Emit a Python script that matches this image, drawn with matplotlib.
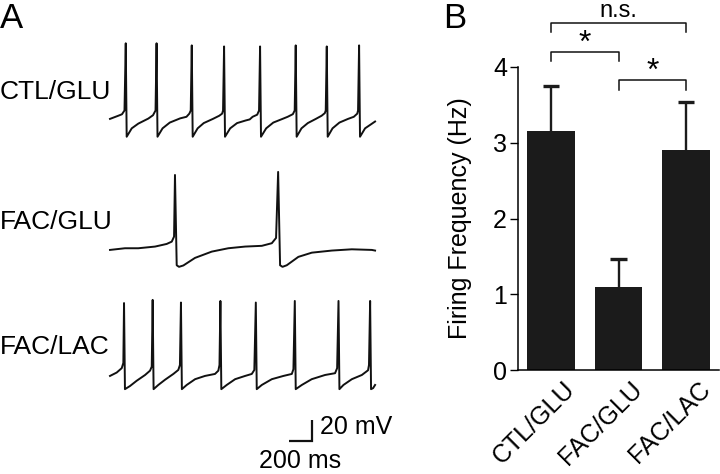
import matplotlib
matplotlib.use("Agg")
import matplotlib.pyplot as plt
import matplotlib.transforms as mtransforms
import numpy as np

plt.rcParams['font.family'] = ['Liberation Sans', 'DejaVu Sans']

# ---------------- Panel A data (ms, mV) ----------------
trace_names = ["CTL/GLU", "FAC/GLU", "FAC/LAC"]

ctl_t = [0, 72, 104, 126, 137, 145, 189, 246, 333, 374, 396, 405,
         413, 457, 520, 610, 665, 690, 702, 711,
         719, 762, 815, 895, 950, 975, 983, 992,
         1000, 1045, 1105, 1180, 1215, 1240, 1280, 1296, 1305,
         1313, 1358, 1420, 1500, 1545, 1590, 1606, 1615,
         1623, 1665, 1720, 1790, 1840, 1868, 1876, 1885,
         1893, 1935, 1995, 2070, 2120, 2150, 2157, 2166,
         2174, 2218, 2265, 2305]
ctl_v = [-42, -39, -37.6, -34, 30, -59, -51, -46.5, -41.7, -38.5, -34, 30,
         -59, -51, -45.5, -41.5, -40, -37, -34, 28,
         -59, -51, -46, -42, -39, -37, -34, 27,
         -59, -51, -46, -43.5, -42.5, -40, -38, -34, 27,
         -59, -51, -45.5, -42, -40, -37.5, -34, 28,
         -59, -51, -46, -42, -39, -36.5, -34, 27,
         -59, -51, -45.5, -42, -40, -37, -34, 28,
         -59, -51, -47.5, -44.5]

fglu_t = [0, 130, 246, 392, 493, 537, 557, 565,
          580, 600, 638, 739, 885, 1029, 1175, 1320, 1407, 1444, 1462,
          1479, 1500, 1537, 1638, 1755, 1929, 2103, 2277, 2305]
fglu_v = [-41.4, -39.8, -39.8, -38.2, -35.7, -33.5, -28.7, 30,
          -56, -57.5, -56.2, -49, -43, -39.8, -38.2, -37.5, -35, -30, 32.9,
          -56, -57.5, -56, -48, -44, -42, -40.8, -41.4, -42]

flac_t = [0, 58, 102, 116, 122,
          130, 174, 232, 305, 348, 363, 371,
          379, 420, 479, 551, 594, 608, 617,
          625, 667, 740, 826, 913, 942, 952, 960,
          968, 1015, 1088, 1175, 1233, 1255, 1268,
          1276, 1320, 1407, 1508, 1581, 1595, 1607,
          1615, 1668, 1754, 1870, 1957, 1975, 1987,
          1995, 2030, 2103, 2190, 2244, 2252, 2262,
          2270, 2288, 2305]
flac_v = [-41.4, -38.2, -34, -29, 28,
          -54, -51, -46, -40.5, -36.4, -32.5, 31,
          -54, -50, -45, -39.5, -35.7, -31, 28.5,
          -54, -50, -44.5, -41.4, -39.5, -36.4, -31, 30,
          -54, -50, -44.5, -41.4, -39.5, -35.7, 28.5,
          -54, -50, -44.5, -41.4, -39.5, -35, 30,
          -54, -50, -44.5, -40.5, -38.8, -34, 30,
          -54, -50, -44.5, -40.5, -36, -31, 30,
          -54, -53, -50]

scale_ms = 200
scale_mV = 20

# ---------------- Panel B data ----------------
categories = ["CTL/GLU", "FAC/GLU", "FAC/LAC"]
freq_mean = [3.15, 1.10, 2.91]
freq_sem = [0.60, 0.36, 0.63]
yticks = [0, 1, 2, 3, 4]

W, H = 720, 474
fig = plt.figure(figsize=(W / 100, H / 100), dpi=100)
ink = '#111111'

# ---------------- Panel A ----------------
axA = fig.add_axes([0, 0, 400 / W, 1])
px_per_ms = 23 / 200.0
px_per_mV = 21 / 20.0
x0_px = 110
axA.set_xlim((0 - x0_px) / px_per_ms, (400 - x0_px) / px_per_ms)
axA.set_ylim(0, H / px_per_mV)
axA.axis('off')

offsets = [380.2, 254.8, 134.8]
label_y_px = [92, 222, 347]
traces = [(ctl_t, ctl_v), (fglu_t, fglu_v), (flac_t, flac_v)]
for (tt, vv), off, name, ly in zip(traces, offsets, trace_names, label_y_px):
    axA.plot(tt, np.array(vv) + off, color=ink, lw=1.4,
             solid_joinstyle='round')
    fig.text(0.0, 1 - ly / H, name, fontsize=19, va='center', ha='left')

# scale bar
sb_t0 = (289 - x0_px) / px_per_ms
sb_y0 = (H - 441) / px_per_mV
axA.plot([sb_t0, sb_t0 + scale_ms, sb_t0 + scale_ms],
         [sb_y0, sb_y0, sb_y0 + scale_mV], color=ink, lw=1.6,
         solid_capstyle='butt', solid_joinstyle='miter')
fig.text(320 / W, 1 - 427 / H, f"{scale_mV} mV", fontsize=18, va='center', ha='left')
fig.text(300 / W, 1 - 461 / H, f"{scale_ms} ms", fontsize=18, va='center', ha='center')

fig.text(0 / W, 1 - 28 / H, "A", fontsize=25, va='baseline', ha='left')
fig.text(443 / W, 1 - 28 / H, "B", fontsize=25, va='baseline', ha='left')

# ---------------- Panel B ----------------
axB = fig.add_axes([518 / W, (H - 370) / H, (719 - 518) / W, (370 - 67) / H])
x = np.arange(len(categories))
dark = '#1b1b1b'
bar_w = 0.71
axB.bar(x, freq_mean, width=bar_w, color=dark, zorder=2)
err_top = np.array(freq_mean) + np.array(freq_sem)
axB.vlines(x, freq_mean, err_top, color=dark, lw=1.7, zorder=1)
axB.hlines(err_top, x - 0.125, x + 0.125, color=dark, lw=2.4, zorder=1)
axB.set_xlim(-0.49, 2.49)
axB.set_ylim(0, 4)
axB.set_yticks(yticks)
axB.set_yticklabels([str(v) for v in yticks], fontsize=18)
axB.tick_params(axis='y', length=6, width=1, pad=2, direction='out')
axB.tick_params(axis='x', length=0, pad=0)
for s in ['top', 'right']:
    axB.spines[s].set_visible(False)
for s in ['left', 'bottom']:
    axB.spines[s].set_linewidth(1.1)
axB.set_ylabel("Firing Frequency (Hz)", fontsize=18, labelpad=15)

axB.set_xticks(x)
axB.set_xticklabels(categories, fontsize=18, rotation=45, ha='right', va='top',
                    rotation_mode='anchor')
off = mtransforms.ScaledTranslation(12 / 100, -7 / 100, fig.dpi_scale_trans)
for lab in axB.get_xticklabels():
    lab.set_transform(lab.get_transform() + off)

# significance brackets
def bracket(x1, x2, y, h, text, ty, fs, va):
    axB.plot([x1, x1, x2, x2], [y - h, y, y, y - h], color=ink, lw=1.1,
             clip_on=False)
    axB.text((x1 + x2) / 2, ty, text, ha='center', va=va, fontsize=fs,
             clip_on=False)

bracket(x[0], x[2], 4.58, 0.12, "n.s.", 4.66, 17, 'baseline')
bracket(x[0], x[1], 4.20, 0.12, "*", 4.31, 23, 'center')
bracket(x[1], x[2], 3.83, 0.13, "*", 3.94, 23, 'center')

fig.savefig("out.png", dpi=100)
